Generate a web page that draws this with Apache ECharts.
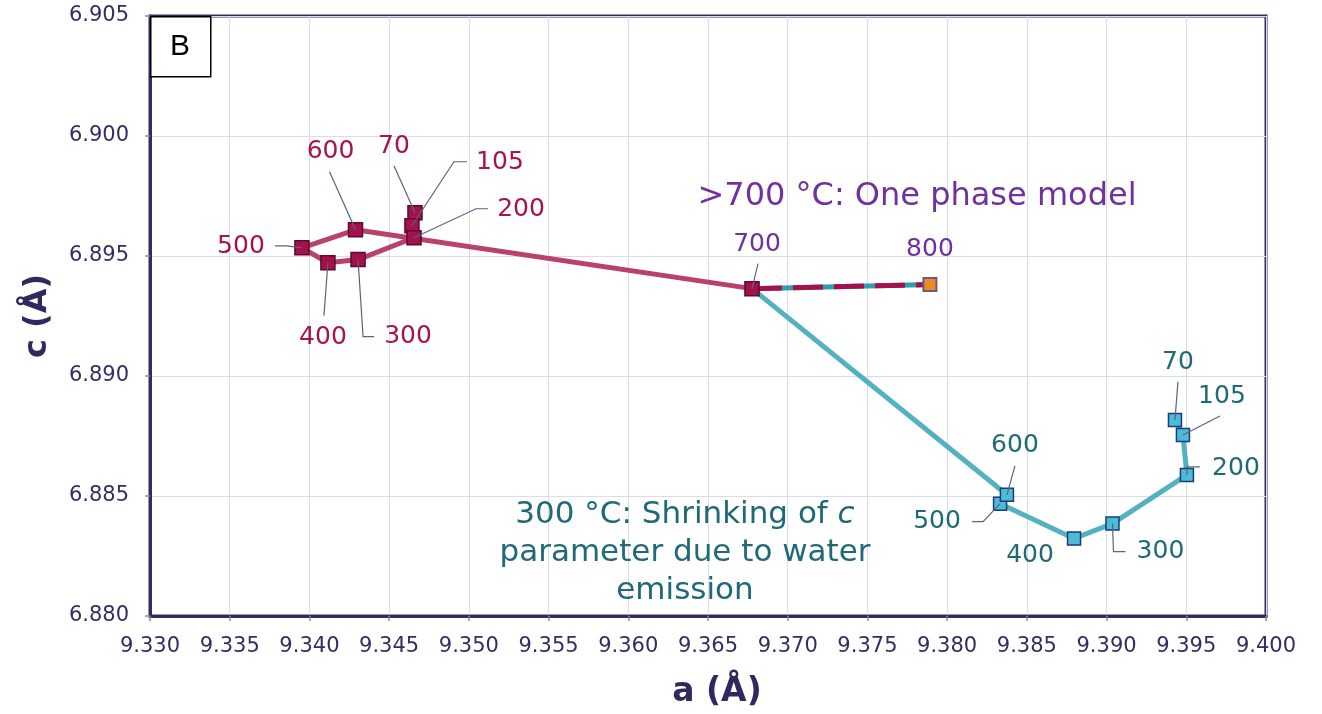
<!DOCTYPE html>
<html><head><meta charset="utf-8">
<script src="https://cdn.jsdelivr.net/npm/echarts@6/dist/echarts.min.js"></script>
<style>html,body{margin:0;padding:0;background:#fff}#c{width:1322px;height:714px}</style>
</head><body><div id="c"></div><script>
// ---- data ----
const phase1Temps = ['70', '105', '200', '300', '400', '500', '600'];
const phase1A = [9.34662, 9.34643, 9.34656, 9.34305, 9.34116, 9.33953, 9.34289];
const phase1C = [6.89680, 6.89626, 6.89576, 6.89485, 6.89472, 6.89534, 6.89609];

const phase2Temps = ['70', '105', '200', '300', '400', '500', '600'];
const phase2A = [9.39429, 9.39479, 9.39504, 9.39037, 9.38796, 9.38332, 9.38375];
const phase2C = [6.88817, 6.88754, 6.88588, 6.88385, 6.88323, 6.88468, 6.88505];

const onePhaseTemps = ['700', '800'];
const onePhaseA = [9.36776, 9.37892];
const onePhaseC = [6.89364, 6.89381];

const xRange = [9.330, 9.400, 0.005];
const yRange = [6.880, 6.905, 0.005];

// ---- styling / label placement (pixel offsets from the point) ----
const FONT = 'DejaVu Sans';
const COL = {
  redLine: '#b9416f', redMark: '#a3124c', redBorder: '#5a0b2d', redText: '#a8124d',
  cyanLine: '#54b1c1', cyanMark: '#4bbcd6', cyanBorder: '#1d3b78', cyanText: '#1f6a76',
  purple: '#7030a0', orange: '#f08a24', orangeBorder: '#6e5a7e',
  axis: '#332d66', axisText: '#342d63', grid: '#dcdce8', leader: '#5d6285'
};
const LAYOUT = {
  p1: {
    '70':  { t: [-21, -66], p: [[-21, -47]] },
    '105': { t: [88, -63],  p: [[42, -64], [55, -64]] },
    '200': { t: [107, -28], p: [[62, -29], [74, -29]] },
    '300': { t: [50, 77],   p: [[5, 77], [16, 77]] },
    '400': { t: [-5, 75],   p: [[-4, 53]] },
    '500': { t: [-61, -1],  p: [[-15, -2], [-27, -2]] },
    '600': { t: [-25, -78], p: [[-26, -58]] }
  },
  p2: {
    '70':  { t: [3, -57],   p: [[3, -38]] },
    '105': { t: [39, -39],  p: [[37, -19]] },
    '200': { t: [49, -6],   p: [[0, -8], [13, -8]] },
    '300': { t: [48, 28],   p: [[1, 28], [13, 28]] },
    '400': { t: [-44, 17],  p: [] },
    '500': { t: [-63, 18],  p: [[-17, 18], [-28, 18]] },
    '600': { t: [8, -49],   p: [[8, -29]] }
  },
  one: {
    '700': { t: [5, -44], p: [[6, -25]] },
    '800': { t: [0, -35], p: [] }
  }
};

// ---- build series data from the arrays ----
const pts = (A, C) => A.map((a, i) => [a, C[i]]);
const redData = pts(phase1A, phase1C).concat([[onePhaseA[0], onePhaseC[0]]]);
const cyanData = pts(phase2A, phase2C).concat([[onePhaseA[0], onePhaseC[0]]]);
const oneData = pts(onePhaseA, onePhaseC);

const labelItems = [];
phase1Temps.forEach((t, i) => labelItems.push({ v: [phase1A[i], phase1C[i]], text: t, color: COL.redText, lay: LAYOUT.p1[t] }));
phase2Temps.forEach((t, i) => labelItems.push({ v: [phase2A[i], phase2C[i]], text: t, color: COL.cyanText, lay: LAYOUT.p2[t] }));
onePhaseTemps.forEach((t, i) => labelItems.push({ v: [onePhaseA[i], onePhaseC[i]], text: t, color: COL.purple, lay: LAYOUT.one[t] }));

const chart = echarts.init(document.getElementById('c'), null, { renderer: 'canvas' });

const axisCommon = {
  type: 'value',
  nameLocation: 'middle',
  axisLine: { show: true, lineStyle: { color: COL.axis, width: 3 } },
  axisTick: { show: true, inside: false, length: 5, lineStyle: { color: '#8a8a8a', width: 1.5 } },
  splitLine: { show: true, lineStyle: { color: COL.grid, width: 1 } },
  axisLabel: { fontFamily: FONT, fontSize: 21, color: COL.axisText, formatter: v => v.toFixed(3) }
};

chart.setOption({
  animation: false,
  backgroundColor: '#ffffff',
  grid: { left: 150, right: 56, top: 16, bottom: 96, show: true, borderColor: COL.axis, borderWidth: 3, backgroundColor: 'transparent' },
  xAxis: Object.assign({}, axisCommon, {
    min: xRange[0], max: xRange[1], interval: xRange[2],
    name: 'a (Å)', nameGap: 60,
    nameTextStyle: { fontFamily: FONT, fontSize: 33, fontWeight: 'bold', color: '#2f2960', padding: [0, 0, 0, 18] },
    axisLabel: Object.assign({}, axisCommon.axisLabel, { margin: 20 })
  }),
  yAxis: Object.assign({}, axisCommon, {
    min: yRange[0], max: yRange[1], interval: yRange[2],
    name: 'c (Å)', nameGap: 96,
    nameTextStyle: { fontFamily: FONT, fontSize: 32, fontWeight: 'bold', color: '#2f2960' },
    axisLabel: Object.assign({}, axisCommon.axisLabel, { margin: 21 })
  }),
  graphic: [
    { type: 'rect', left: 150, top: 16, z: 100, shape: { width: 60, height: 60 },
      style: { fill: '#fff', stroke: '#000', lineWidth: 1.5 } },
    { type: 'text', x: 180, y: 47, z: 101,
      style: { text: 'B', fontFamily: 'Liberation Sans', fontSize: 30, fill: '#000', align: 'center', verticalAlign: 'middle' } },
    { type: 'text', x: 917, y: 197, z: 50,
      style: { text: '>700 °C: One phase model', fontFamily: FONT, fontSize: 32, fill: COL.purple, align: 'center', verticalAlign: 'middle' } },
    { type: 'text', x: 685, y: 553, z: 50,
      style: {
        text: '300 °C: Shrinking of {i|c}\nparameter due to water\nemission',
        fontFamily: FONT, fontSize: 31, fill: COL.cyanText, align: 'center', verticalAlign: 'middle', lineHeight: 38,
        rich: { i: { fontFamily: FONT, fontSize: 31, fontStyle: 'italic', fill: COL.cyanText, lineHeight: 38 } }
      } }
  ],
  series: [
    { // phase 2 (cyan) path
      type: 'line', z: 2, data: cyanData, symbol: 'rect', symbolSize: 13,
      lineStyle: { color: COL.cyanLine, width: 5 },
      itemStyle: { color: COL.cyanMark, borderColor: COL.cyanBorder, borderWidth: 1.5 },
      showSymbol: true
    },
    { // one phase model, cyan underlay
      type: 'line', z: 3, data: oneData, symbol: 'none',
      lineStyle: { color: '#2d9db0', width: 5 }
    },
    { // one phase model, dashed crimson overlay + 800 marker
      type: 'line', z: 4, data: oneData.map((d, i) => i === 0 ? { value: d, symbol: 'none' } : { value: d }),
      symbol: 'rect', symbolSize: 13,
      lineStyle: { color: COL.redMark, width: 5, type: [30, 11] },
      itemStyle: { color: COL.orange, borderColor: COL.orangeBorder, borderWidth: 2 }
    },
    { // phase 1 (crimson) path
      type: 'line', z: 5, data: redData, symbol: 'rect', symbolSize: 14,
      lineStyle: { color: COL.redLine, width: 5 },
      itemStyle: { color: COL.redMark, borderColor: COL.redBorder, borderWidth: 1.5 }
    },
    { // temperature labels with leader lines
      type: 'custom', z: 10, silent: true,
      data: labelItems.map(d => d.v),
      renderItem: function (params, api) {
        const item = labelItems[params.dataIndex];
        const p = api.coord([api.value(0), api.value(1)]);
        const children = [];
        if (item.lay.p.length) {
          const points = [[p[0], p[1]]].concat(item.lay.p.map(o => [p[0] + o[0], p[1] + o[1]]));
          children.push({ type: 'polyline', shape: { points }, style: { stroke: COL.leader, lineWidth: 1.2, fill: null } });
        }
        children.push({ type: 'text', x: p[0] + item.lay.t[0], y: p[1] + item.lay.t[1],
          style: { text: item.text, fontFamily: FONT, fontSize: 25, fill: item.color, align: 'center', verticalAlign: 'middle' } });
        return { type: 'group', children };
      }
    }
  ]
});
</script></body></html>
